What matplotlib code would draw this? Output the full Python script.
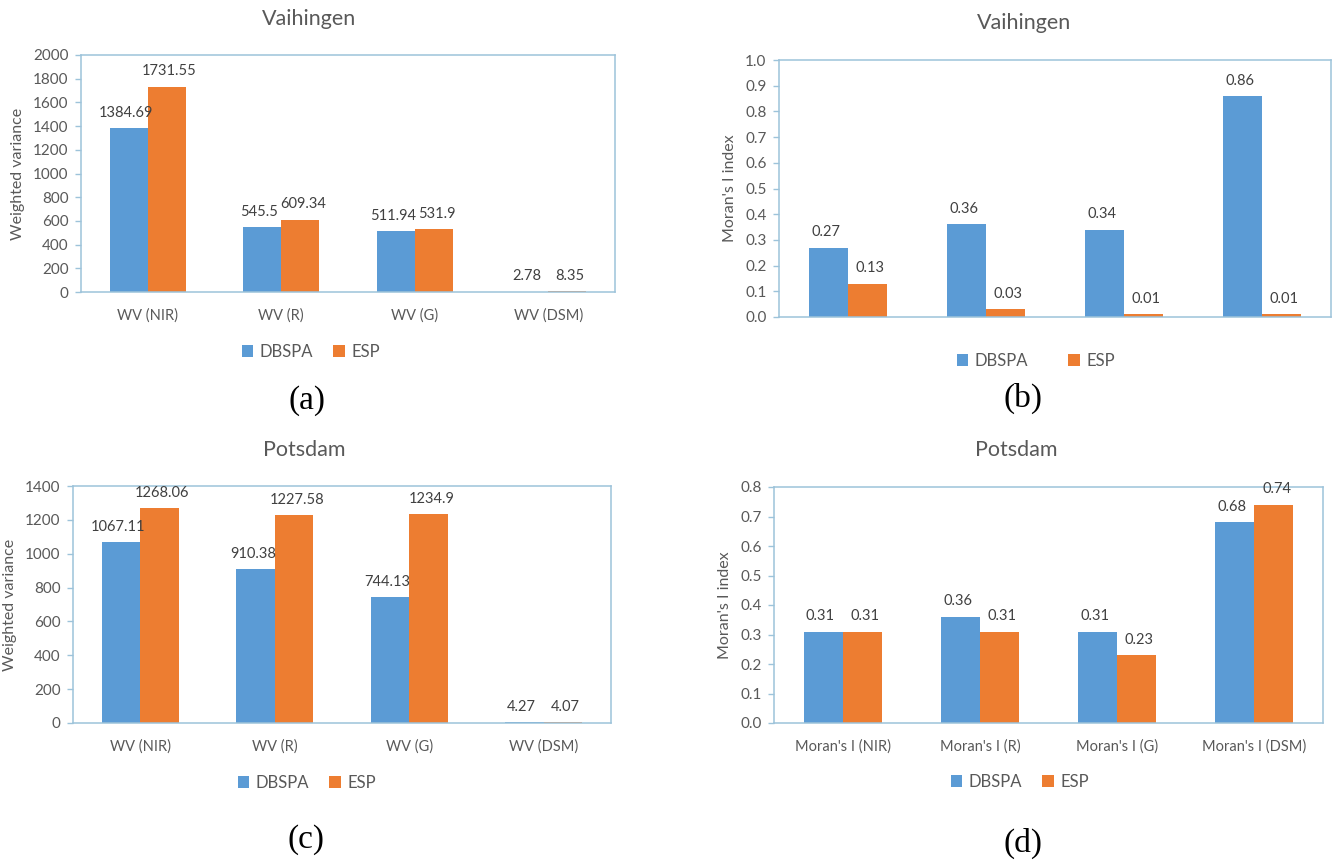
import matplotlib
matplotlib.use("Agg")
import matplotlib.pyplot as plt

# Data
series_names = ["DBSPA", "ESP"]
wv_categories = ["WV (NIR)", "WV (R)", "WV (G)", "WV (DSM)"]
mi_categories = ["Moran's I (NIR)", "Moran's I (R)", "Moran's I (G)", "Moran's I (DSM)"]

vaihingen_wv_dbspa = [1384.69, 545.5, 511.94, 2.78]
vaihingen_wv_esp = [1731.55, 609.34, 531.9, 8.35]
vaihingen_mi_dbspa = [0.27, 0.36, 0.34, 0.86]
vaihingen_mi_esp = [0.13, 0.03, 0.01, 0.01]

potsdam_wv_dbspa = [1067.11, 910.38, 744.13, 4.27]
potsdam_wv_esp = [1268.06, 1227.58, 1234.9, 4.07]
potsdam_mi_dbspa = [0.31, 0.36, 0.31, 0.68]
potsdam_mi_esp = [0.31, 0.31, 0.23, 0.74]

# Style
blue = "#5B9BD5"
orange = "#ED7D31"
frame = "#9DC3DA"
grey = "#595959"
dark = "#404040"
plt.rcParams["font.family"] = ["Lato", "DejaVu Sans"]

W, H = 1338, 867
fig = plt.figure(figsize=(W / 100, H / 100), dpi=100)


def fx(px):
    return px / W


def fy(py):
    return 1 - py / H


def make_axes(left, top, right, bottom):
    return fig.add_axes([fx(left), fy(bottom), (right - left) / W, (bottom - top) / H])


def draw_panel(ax, title, ylabel, cats, dbspa, esp, ymax, ystep, fmt, show_xlabels,
               title_xy, legend_xy, colspace, tag, tag_xy, label_fmt):
    x = list(range(len(dbspa)))
    w = 0.285
    b1 = ax.bar([i - w / 2 for i in x], dbspa, w, color=blue, label=series_names[0])
    b2 = ax.bar([i + w / 2 for i in x], esp, w, color=orange, label=series_names[1])
    for i in x:
        # nudge the pair apart a little so neighbouring labels do not touch
        ax.annotate(label_fmt(dbspa[i]), (i - w / 2, dbspa[i]), xytext=(-2, 6),
                    textcoords="offset points", ha="center", va="bottom",
                    fontsize=10.5, color=dark)
        ax.annotate(label_fmt(esp[i]), (i + w / 2, esp[i]), xytext=(2, 6),
                    textcoords="offset points", ha="center", va="bottom",
                    fontsize=10.5, color=dark)
    ax.set_xlim(-0.5, len(dbspa) - 0.5)
    ax.set_ylim(0, ymax)
    ticks = [round(k * ystep, 6) for k in range(int(round(ymax / ystep)) + 1)]
    ax.set_yticks(ticks)
    ax.set_yticklabels([fmt.format(t) for t in ticks])
    ax.set_xticks(x)
    if show_xlabels:
        ax.set_xticklabels(cats)
    else:
        ax.set_xticklabels([])
    ax.tick_params(axis="x", length=0, pad=12, labelsize=10.5, labelcolor=grey)
    ax.tick_params(axis="y", length=4, color=frame, width=1, pad=5, labelsize=11, labelcolor=grey)
    for s in ax.spines.values():
        s.set_color(frame)
        s.set_linewidth(1.1)
    ax.set_ylabel(ylabel, fontsize=11.5, color=grey, labelpad=6)
    fig.text(fx(title_xy[0]), fy(title_xy[1]), title, ha="center", va="center",
             fontsize=15.5, color=grey)
    fig.legend([b1, b2], series_names, loc="center",
               bbox_to_anchor=(fx(legend_xy[0]), fy(legend_xy[1])), ncol=2, frameon=False,
               fontsize=12, labelcolor=grey, handlelength=0.7, handleheight=0.7,
               handletextpad=0.4, columnspacing=colspace)
    fig.text(fx(tag_xy[0]), fy(tag_xy[1]), tag, ha="center", va="center",
             fontsize=24, family="Liberation Serif", color="black")


ax_a = make_axes(81, 55, 615, 292)
draw_panel(ax_a, "Vaihingen", "Weighted variance", wv_categories, vaihingen_wv_dbspa,
           vaihingen_wv_esp, 2000, 200, "{:.0f}", True, (309, 19), (311, 352), 1.2,
           "(a)", (307, 401), lambda v: f"{v:g}")

ax_b = make_axes(779, 60, 1331, 317)
draw_panel(ax_b, "Vaihingen", "Moran's I index", mi_categories, vaihingen_mi_dbspa,
           vaihingen_mi_esp, 1.0, 0.1, "{:.1f}", False, (1024, 23), (1036, 361), 2.4,
           "(b)", (1023, 398), lambda v: f"{v:.2f}")

ax_c = make_axes(73, 486, 611, 723)
draw_panel(ax_c, "Potsdam", "Weighted variance", wv_categories, potsdam_wv_dbspa,
           potsdam_wv_esp, 1400, 200, "{:.0f}", True, (304, 450), (307, 783), 1.2,
           "(c)", (306, 840), lambda v: f"{v:g}")

ax_d = make_axes(774, 487, 1323, 723)
draw_panel(ax_d, "Potsdam", "Moran's I index", mi_categories, potsdam_mi_dbspa,
           potsdam_mi_esp, 0.8, 0.1, "{:.1f}", True, (1016, 450), (1020, 782), 1.2,
           "(d)", (1023, 843), lambda v: f"{v:.2f}")

fig.savefig("out.png", dpi=100, facecolor="white")
